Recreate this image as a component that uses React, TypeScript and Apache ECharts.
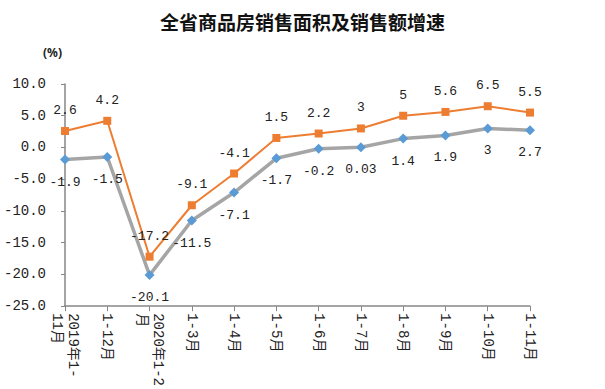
import React, { useEffect, useRef } from "react";
import * as echarts from "echarts";

const categories = [
  "2019年1-\n11月",
  "1-12月",
  "2020年1-2\n月",
  "1-3月",
  "1-4月",
  "1-5月",
  "1-6月",
  "1-7月",
  "1-8月",
  "1-9月",
  "1-10月",
  "1-11月",
];
const salesAmount = [2.6, 4.2, -17.2, -9.1, -4.1, 1.5, 2.2, 3, 5, 5.6, 6.5, 5.5];
const salesArea = [-1.9, -1.5, -20.1, -11.5, -7.1, -1.7, -0.2, 0.03, 1.4, 1.9, 3, 2.7];
const yMin = -25;
const yMax = 10;
const yStep = 5;
const titleText = "全省商品房销售面积及销售额增速";
const unitText = "(%)";

const numFont = "'Liberation Mono', 'DejaVu Sans Mono', 'Noto Sans CJK SC', monospace";

export default function App() {
  const ref = useRef<HTMLDivElement>(null);
  useEffect(() => {
    if (!ref.current) return;
    const chart = echarts.init(ref.current, undefined, { renderer: "svg" });
    chart.setOption({
      animation: false,
      backgroundColor: "#ffffff",
      title: {
        text: titleText,
        left: "center",
        top: 7,
        textStyle: {
          fontSize: 19,
          fontWeight: "bold",
          color: "#111",
          fontFamily: "'Noto Sans CJK SC', sans-serif",
        },
      },
      graphic: [
        {
          type: "text",
          left: 43,
          top: 46,
          style: {
            text: unitText,
            fontSize: 12,
            fontWeight: "bold",
            fill: "#222",
            fontFamily: "'Noto Sans', sans-serif",
          },
        },
      ],
      grid: { left: 65, right: 75, top: 84, bottom: 82, containLabel: false },
      xAxis: {
        type: "category",
        data: categories,
        boundaryGap: false,
        axisLine: { onZero: false, lineStyle: { color: "#868686", width: 1.5 } },
        axisTick: { show: true, length: 5, inside: false, lineStyle: { color: "#868686" } },
        axisLabel: {
          rotate: -90,
          interval: 0,
          fontSize: 14,
          lineHeight: 16,
          color: "#222",
          margin: 7,
          fontFamily: numFont,
        },
        splitLine: { show: false },
      },
      yAxis: {
        type: "value",
        min: yMin,
        max: yMax,
        interval: yStep,
        axisLine: { show: true, lineStyle: { color: "#868686", width: 1.5 } },
        axisTick: { show: true, length: 4, lineStyle: { color: "#868686" } },
        axisLabel: {
          fontSize: 14,
          color: "#222",
          margin: 19,
          fontFamily: numFont,
          formatter: (v: number) => v.toFixed(1),
        },
        splitLine: { show: false },
      },
      series: [
        {
          name: "销售面积",
          type: "line",
          data: salesArea,
          symbol: "diamond",
          symbolSize: 10,
          itemStyle: { color: "#5B9BD5" },
          lineStyle: { color: "#A5A5A5", width: 3.5 },
          z: 2,
          label: {
            show: true,
            position: "bottom",
            distance: 11,
            fontSize: 13,
            color: "#222",
            fontFamily: numFont,
          },
        },
        {
          name: "销售额",
          type: "line",
          data: salesAmount,
          symbol: "rect",
          symbolSize: 8,
          itemStyle: { color: "#ED7D31" },
          lineStyle: { color: "#ED7D31", width: 2 },
          z: 3,
          label: {
            show: true,
            position: "top",
            distance: 10,
            fontSize: 13,
            color: "#222",
            fontFamily: numFont,
          },
        },
      ],
    });
    return () => chart.dispose();
  }, []);
  return (
    <div
      ref={ref}
      style={{ position: "fixed", left: 0, top: 0, width: 605, height: 389, background: "#fff" }}
    />
  );
}
